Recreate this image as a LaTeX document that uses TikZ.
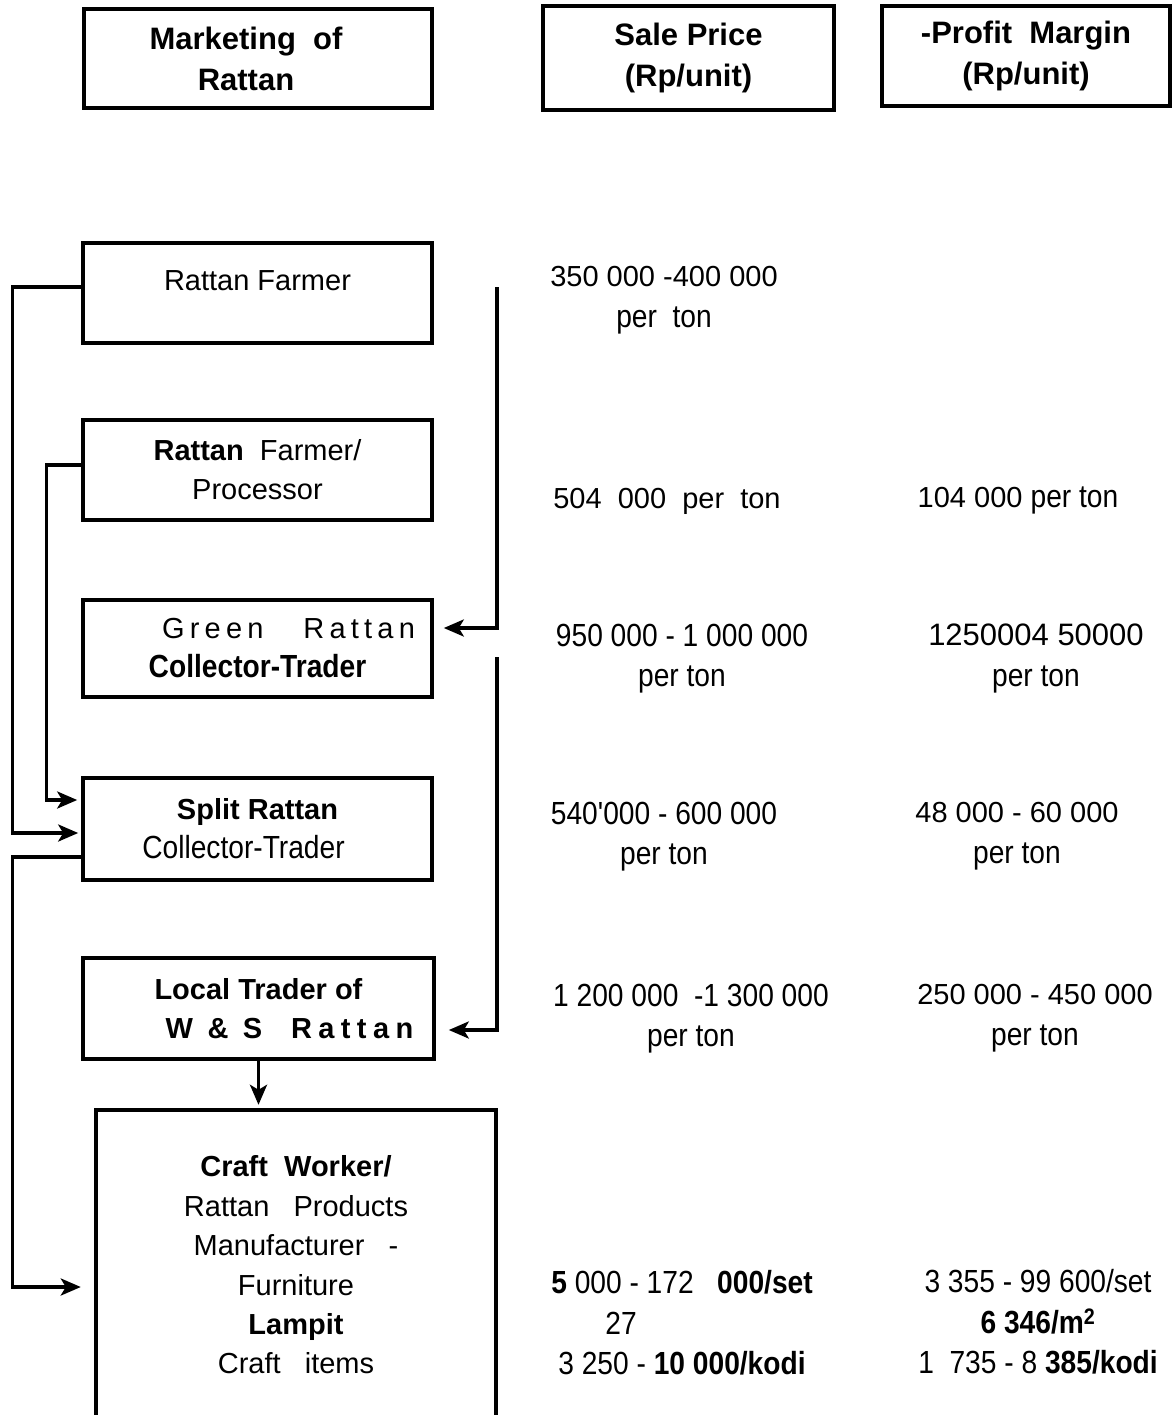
\documentclass[tikz,border=0pt]{standalone}
\usepackage{fontspec}
\setmainfont{Liberation Sans}
\newfontfamily\narrowfont[FakeStretch=0.88]{Liberation Sans}
\usepackage{tikz}
\usetikzlibrary{arrows.meta, calc}

\begin{document}
\begin{tikzpicture}[x=1pt, y=-1pt, >=Stealth,
        box/.style={draw, line width=3.6pt, inner sep=0pt, align=center,
            font=\fontsize{29}{39}\selectfont},
        head/.style={box, font=\bfseries\fontsize{31}{41}\selectfont},
        val/.style={align=center, font=\fontsize{29}{41}\selectfont},
        nval/.style={align=center, font=\narrowfont\fontsize{32}{40}\selectfont},
        link/.style={line width=3.4pt, -{Stealth[length=20pt, width=17pt, inset=5pt]}},
        wide/.style={line width=3.6pt}]
        \useasboundingbox (0,0) rectangle (1173,1415);

        % Column headings
        \node[head, minimum width=348pt, minimum height=99pt] (hmarket) at (258,58.5)
            {\hspace*{-24pt}Marketing\ \ of\\\hspace*{-24pt}Rattan};
        \node[head, minimum width=291pt, minimum height=104pt] (hprice) at (688.5,58) {Sale Price\\(Rp/unit)};
        \node[head, minimum width=288pt, minimum height=100pt] (hmargin) at (1026,56) {-Profit\ \ Margin\\(Rp/unit)};

        % Marketing chain
        \node[box, minimum width=349pt, minimum height=100pt, text depth=24pt] (farmer) at (257.5,293) {Rattan Farmer};
        \node[box, minimum width=349pt, minimum height=100pt] (proc) at (257.5,470) {\textbf{Rattan}\ \ Farmer/\\Processor};
        \node[box, minimum width=349pt, minimum height=97pt] (green) at (257.5,648.5)
            {\hspace*{62pt}{\addfontfeatures{LetterSpace=18}Green\ \ \ Rattan}\\{\narrowfont\bfseries\fontsize{32}{39}\selectfont Collector-Trader}};
        \node[box, minimum width=349pt, minimum height=102pt] (split) at (257.5,829)
            {\textbf{Split Rattan}\\\hspace*{-28pt}{\narrowfont\fontsize{32}{39}\selectfont Collector-Trader}};
        \node[box, minimum width=351pt, minimum height=101pt] (local) at (258.5,1008.5)
            {\textbf{Local Trader of}\\\hspace*{62pt}{\bfseries\addfontfeatures{LetterSpace=22}W\ \&\ S\ \ Rattan}};
        \node[align=center, font=\fontsize{29}{39.4}\selectfont, minimum width=400pt, minimum height=310pt] (craft) at (296,1265)
            {\textbf{Craft\ \ Worker/}\\Rattan\ \ \ Products\\Manufacturer\ \ \ -\\Furniture\\\textbf{Lampit}\\Craft\ \ \ items};
        \draw[wide] (craft.south west) -- (craft.north west) -- (craft.north east) -- (craft.south east);

        % Sale prices
        \node[val] (sp1) at (664,300) {350 000 -400 000\\{\narrowfont\fontsize{32}{40}\selectfont per\ \ ton}};
        \node[val] (sp2) at (667,501) {504\ \ 000\ \ per\ \ ton};
        \node[nval] (sp3) at (682,659) {950 000 - 1 000 000\\per ton};
        \node[nval] (sp4) at (664,837) {540'000 - 600 000\\per ton};
        \node[nval] (sp5) at (691,1019) {1 200 000 \ -1 300 000\\per ton};
        \node[nval, font=\narrowfont\fontsize{32}{40.5}\selectfont] (sp6) at (682,1323)
            {\textbf{5} 000 - 172\ \ \ \textbf{000/set}\\\hspace*{-122pt}27\\3 250 - \textbf{10 000/kodi}};

        % Profit margins
        \node[val] (pm2) at (1018,500) {104 000 {\narrowfont\fontsize{32}{40}\selectfont per ton}};
        \node[val, font=\fontsize{31}{41}\selectfont] (pm3) at (1036,658) {1250004 50000\\{\narrowfont\fontsize{32}{40}\selectfont per ton}};
        \node[val] (pm4) at (1017,836) {48 000 - 60 000\\{\narrowfont\fontsize{32}{40}\selectfont per ton}};
        \node[val] (pm5) at (1035,1018) {250 000 - 450 000\\{\narrowfont\fontsize{32}{40}\selectfont per ton}};
        \node[nval, font=\narrowfont\fontsize{32}{40.5}\selectfont] (pm6) at (1038,1322)
            {3 355 - 99 600/set\\\textbf{6 346/m\textsuperscript{2}}\\1\ \ 735 - 8 \textbf{385/kodi}};

        % Connectors on the left
        \draw[link, shorten >=3pt] ([yshift=6pt]farmer.west) -- ++(-69,0) |- ([yshift=-4pt]split.west);
        \draw[link, shorten >=4pt] ([yshift=5pt]proc.west) -- ++(-35,0) |- ([yshift=29pt]split.west);
        \draw[link, shorten >=15pt] ([yshift=-28pt]split.west) -- ++(-69,0) |- ([yshift=-22pt]craft.west);

        % Connectors on the right
        \coordinate (top1) at (497,287);
        \coordinate (top2) at (497,657);
        \draw[link, shorten >=10pt] (top1) |- ([yshift=20.5pt]green.east);
        \draw[link, shorten >=13pt] (top2) |- ([yshift=-21.5pt]local.east);

        % Down to the craft workers
        \draw[link, shorten >=5pt] (local.south) -- (local.south |- craft.north);
    \end{tikzpicture}
\end{document}
